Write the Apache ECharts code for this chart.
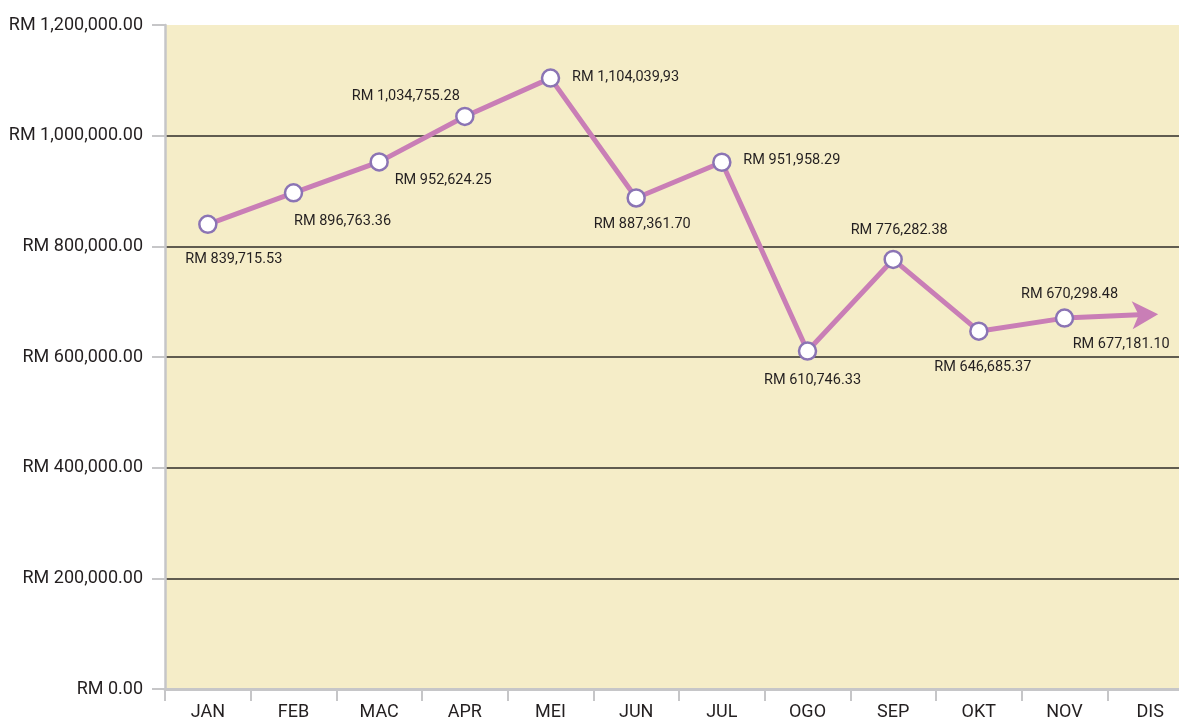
<!DOCTYPE html>
<html>
<head>
<meta charset="utf-8">
<script src="https://cdn.jsdelivr.net/npm/echarts@6/dist/echarts.min.js"></script>
<style>
  html, body { margin: 0; padding: 0; background: #ffffff; }
  #chart { width: 1179px; height: 720px; }
</style>
</head>
<body>
<div id="chart"></div>
<script>
"use strict";

var months = ['JAN', 'FEB', 'MAC', 'APR', 'MEI', 'JUN', 'JUL', 'OGO', 'SEP', 'OKT', 'NOV', 'DIS'];
var sales = [839715.53, 896763.36, 952624.25, 1034755.28, 1104039.93, 887361.70,
             951958.29, 610746.33, 776282.38, 646685.37, 670298.48, 677181.10];
var pointLabels = ['RM 839,715.53', 'RM 896,763.36', 'RM 952,624.25', 'RM 1,034,755.28',
                   'RM 1,104,039,93', 'RM 887,361.70', 'RM 951,958.29', 'RM 610,746.33',
                   'RM 776,282.38', 'RM 646,685.37', 'RM 670,298.48', 'RM 677,181.10'];

// where each value label sits, relative to its point
var labelOffsets = [[26, 35], [49, 29], [64, 18], [-59, -20], [75, -1], [6, 26],
                    [70, -2], [5, 29], [6, -29], [4, 36], [5, -24], [-24, 30]];

var lineColor = '#C97EB6';
var textColor = '#231F20';
var axisGray = '#C6C6C8';

var chart = echarts.init(document.getElementById('chart'));

var seriesData = sales.map(function (v, i) {
  var item = {
    value: v,
    label: {
      formatter: pointLabels[i],
      offset: labelOffsets[i]
    }
  };
  // last month ends in an arrow head instead of a marker
  if (i === sales.length - 1) {
    item.symbol = 'arrow';
    item.symbolSize = [21, 26];
    item.symbolRotate = -88;
    item.symbolOffset = [8, 0];
    item.itemStyle = { color: lineColor, borderWidth: 0 };
  }
  return item;
});

var option = {
  backgroundColor: '#ffffff',
  animation: false,
  grid: {
    left: 165,
    top: 25,
    width: 1028,
    height: 664,
    outerBoundsMode: 'none',
    containLabel: false,
    show: true,
    backgroundColor: '#F5EDC8',
    borderWidth: 0
  },
  xAxis: {
    type: 'category',
    data: months,
    boundaryGap: true,
    axisLine: { lineStyle: { color: axisGray, width: 3 } },
    axisTick: { show: true, interval: 0, length: 12, lineStyle: { color: axisGray, width: 2 } },
    axisLabel: {
      interval: 0,
      margin: 14,
      color: textColor,
      fontFamily: 'Roboto',
      fontSize: 18
    }
  },
  yAxis: {
    type: 'value',
    min: 0,
    max: 1200000,
    interval: 200000,
    axisLine: { show: true, lineStyle: { color: axisGray, width: 2.5 } },
    axisTick: { show: true, length: 13, lineStyle: { color: axisGray, width: 2 } },
    axisLabel: {
      margin: 22,
      color: textColor,
      fontFamily: 'Roboto',
      fontSize: 18,
      formatter: function (v) {
        return 'RM ' + v.toLocaleString('en-US', { minimumFractionDigits: 2, maximumFractionDigits: 2 });
      }
    },
    splitLine: {
      show: true,
      lineStyle: {
        color: ['rgba(0,0,0,0)', '#2E2B28', '#2E2B28', '#2E2B28', '#2E2B28', '#2E2B28', 'rgba(0,0,0,0)'],
        width: 1.5
      }
    }
  },
  series: [{
    type: 'line',
    data: seriesData,
    symbol: 'circle',
    symbolSize: 17,
    showAllSymbol: true,
    lineStyle: { color: lineColor, width: 5 },
    itemStyle: { color: '#ffffff', borderColor: '#8B74B4', borderWidth: 2.5 },
    label: {
      show: true,
      position: 'inside',
      align: 'center',
      verticalAlign: 'middle',
      color: textColor,
      fontFamily: 'Roboto',
      fontSize: 14.5
    },
    emphasis: { disabled: true }
  }]
};

chart.setOption(option);
</script>
</body>
</html>
